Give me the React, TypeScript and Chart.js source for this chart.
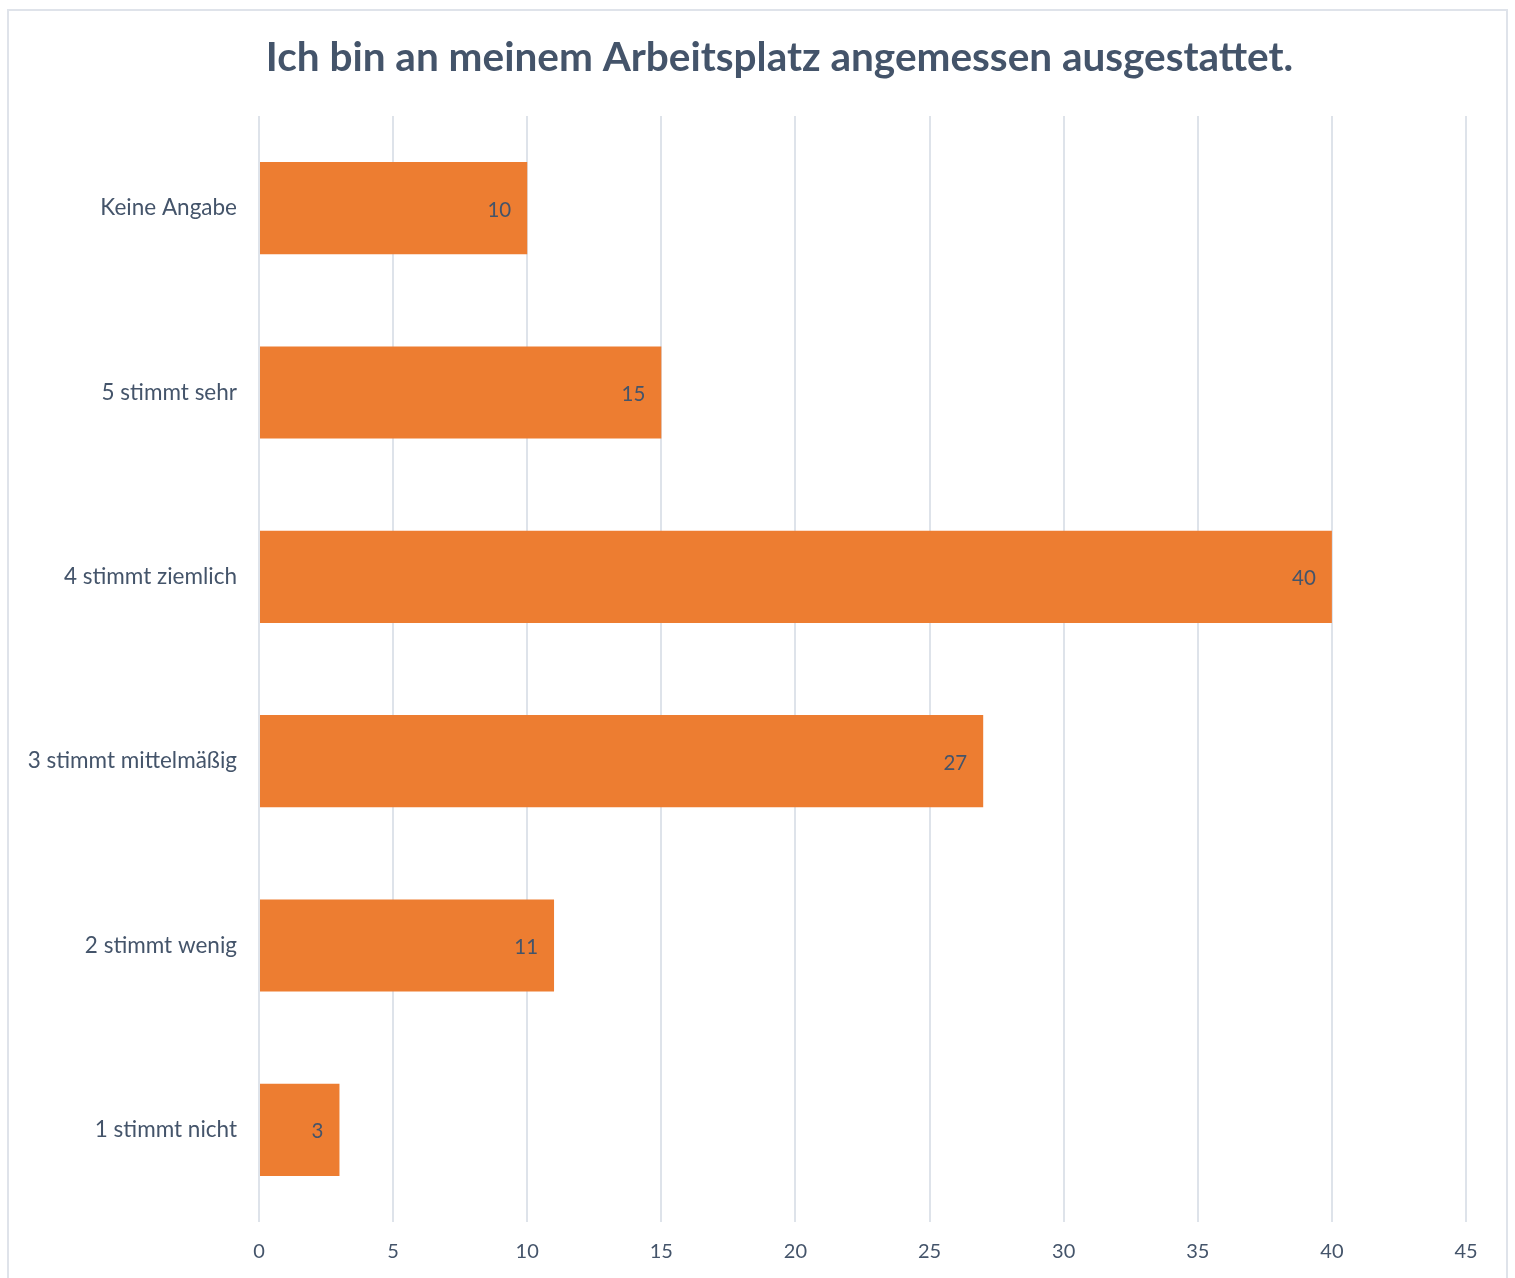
import React, { useEffect, useRef } from "react";
import { Chart, registerables } from "chart.js";

Chart.register(...registerables);

const TITLE = "Ich bin an meinem Arbeitsplatz angemessen ausgestattet.";
const categories = [
  "Keine Angabe",
  "5 stimmt sehr",
  "4 stimmt ziemlich",
  "3 stimmt mittelmäßig",
  "2 stimmt wenig",
  "1 stimmt nicht",
];
const values = [10, 15, 40, 27, 11, 3];
const xMin = 0;
const xMax = 45;
const xStep = 5;

const TEXT = "#44546A";
const BAR = "#ED7D31";
const GRID = "#DEE3EA";
const FONT = "Lato, 'Open Sans', sans-serif";

const valueLabels = {
  id: "valueLabels",
  afterDatasetsDraw(chart: any) {
    const ctx = chart.ctx;
    const meta = chart.getDatasetMeta(0);
    ctx.save();
    ctx.font = `20.5px ${FONT}`;
    ctx.fillStyle = TEXT;
    ctx.textAlign = "right";
    ctx.textBaseline = "middle";
    meta.data.forEach((el: any, i: number) => {
      const v = chart.data.datasets[0].data[i];
      ctx.fillText(String(v), el.x - 16, el.y + 2);
    });
    ctx.restore();
  },
};

const titlePlugin = {
  id: "titleText",
  afterDraw(chart: any) {
    const ctx = chart.ctx;
    ctx.save();
    ctx.font = `bold 40.5px ${FONT}`;
    ctx.fillStyle = TEXT;
    ctx.textAlign = "center";
    ctx.textBaseline = "alphabetic";
    ctx.fillText(TITLE, 779.5, 71);
    ctx.restore();
  },
};

export default function App() {
  const ref = useRef<HTMLCanvasElement | null>(null);
  useEffect(() => {
    if (!ref.current) return;
    const chart = new Chart(ref.current, {
      type: "bar",
      data: {
        labels: categories,
        datasets: [
          {
            data: values,
            backgroundColor: BAR,
            borderWidth: 0,
            barPercentage: 0.5,
            categoryPercentage: 1,
          },
        ],
      },
      options: {
        indexAxis: "y",
        animation: false,
        responsive: false,
        maintainAspectRatio: false,
        layout: { padding: { left: 0, right: 49, top: 116, bottom: 0 } },
        plugins: {
          legend: { display: false },
          tooltip: { enabled: false },
          title: { display: false },
        },
        scales: {
          x: {
            min: xMin,
            max: xMax,
            ticks: {
              stepSize: xStep,
              color: TEXT,
              font: { family: FONT, size: 20 },
              padding: 18,
            },
            grid: { color: GRID, lineWidth: 2, drawTicks: false },
            border: { display: false },
            afterFit: (s: any) => {
              s.height = 56;
            },
          },
          y: {
            ticks: {
              color: TEXT,
              font: { family: FONT, size: 22.5 },
              padding: 22,
            },
            grid: { display: false, drawTicks: false },
            border: { display: false },
            afterFit: (s: any) => {
              s.width = 259;
            },
          },
        },
      },
      plugins: [valueLabels, titlePlugin],
    });
    return () => chart.destroy();
  }, []);

  return (
    <div
      style={{
        position: "absolute",
        left: 0,
        top: 0,
        width: 1515,
        height: 1278,
        overflow: "hidden",
        background: "#fff",
      }}
    >
      <div
        style={{
          position: "absolute",
          left: 7,
          top: 9,
          width: 1497,
          height: 1320,
          border: "2px solid #DFE3EA",
        }}
      />
      <canvas
        ref={ref}
        width={1515}
        height={1278}
        style={{ position: "absolute", left: 0, top: 0, width: 1515, height: 1278 }}
      />
    </div>
  );
}
